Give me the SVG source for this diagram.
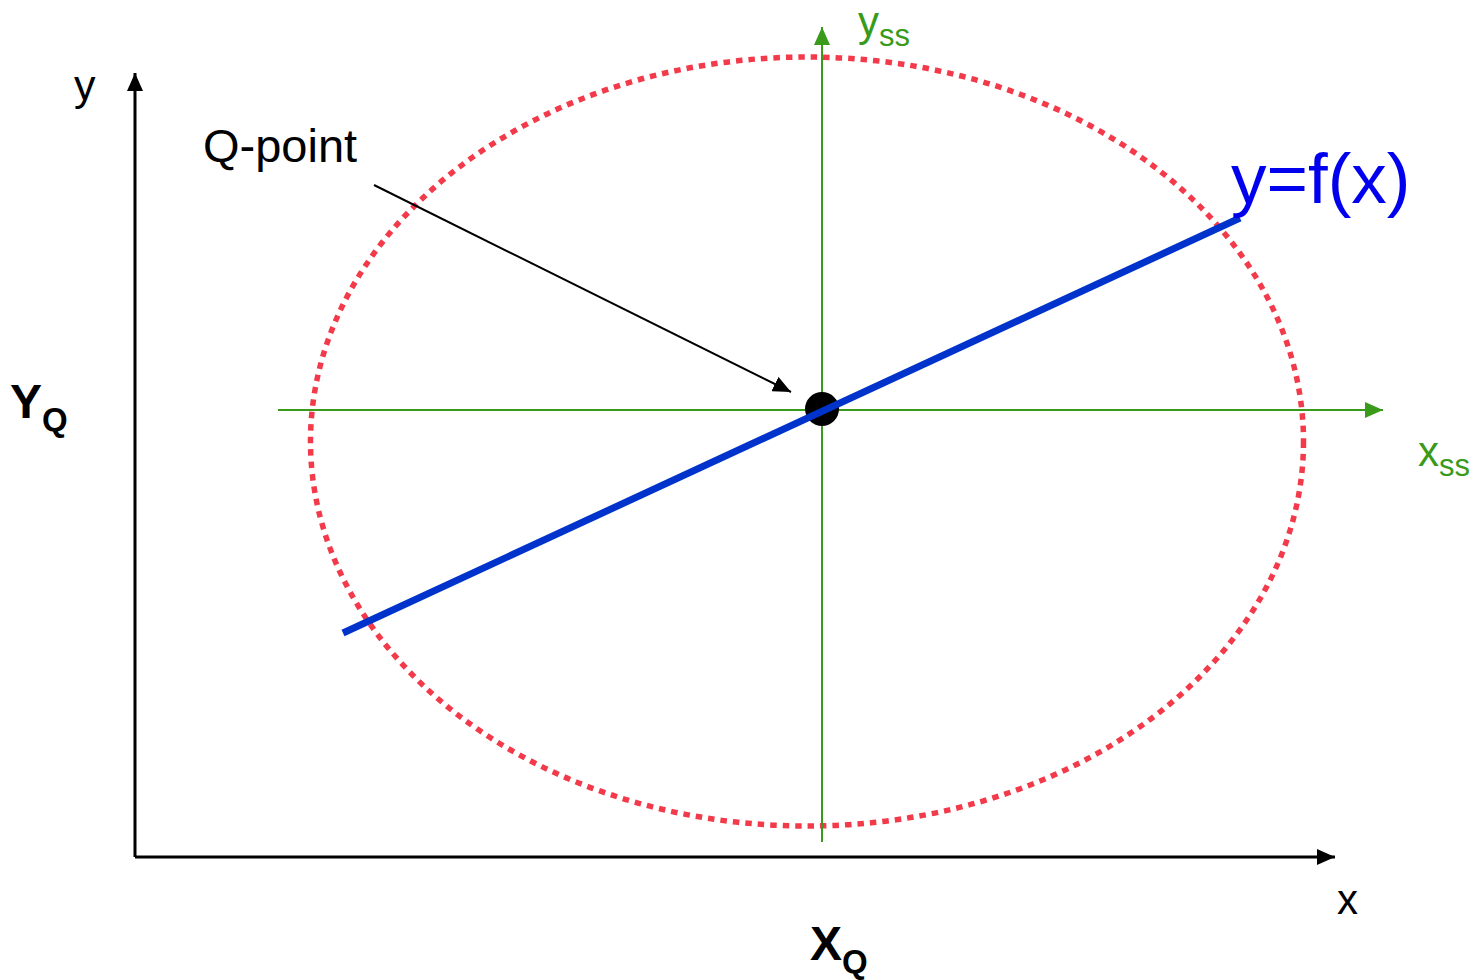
<svg xmlns="http://www.w3.org/2000/svg" width="1480" height="980" viewBox="0 0 1480 980">
<defs>
<marker id="abk" markerWidth="18" markerHeight="16" refX="18" refY="8" orient="auto" markerUnits="userSpaceOnUse"><path d="M0,0 L18,8 L0,16 z" fill="#000"/></marker>
<marker id="ag" markerWidth="18" markerHeight="16" refX="18" refY="8" orient="auto" markerUnits="userSpaceOnUse"><path d="M0,0 L18,8 L0,16 z" fill="#3a9a1a"/></marker>
</defs>
<style>
text{font-family:"Liberation Sans",Arial,sans-serif}
.g{fill:#3a9a1a}
</style>
<rect width="1480" height="980" fill="#fff"/>
<g id="ellipse"><ellipse cx="807" cy="441.5" rx="496.5" ry="384.5" fill="none" stroke="#f23a4a" stroke-width="5.5" stroke-dasharray="6.5 6"/></g>
<g id="connectors">
<line x1="135" y1="857" x2="135" y2="73" stroke="#000" stroke-width="3" marker-end="url(#abk)"/>
<line x1="135" y1="857" x2="1335" y2="857" stroke="#000" stroke-width="3" marker-end="url(#abk)"/>
<line x1="822" y1="842" x2="822" y2="27" stroke="#3a9a1a" stroke-width="2" marker-end="url(#ag)"/>
<line x1="278" y1="410" x2="1383" y2="410" stroke="#3a9a1a" stroke-width="2" marker-end="url(#ag)"/>
<line x1="374" y1="185" x2="791" y2="392" stroke="#000" stroke-width="2" marker-end="url(#abk)"/>
</g>
<g id="qpoint"><circle cx="822" cy="409" r="17" fill="#000"/></g>
<g id="curve"><line x1="343" y1="633" x2="1240" y2="218" stroke="#0033cc" stroke-width="7"/></g>
<g id="labels">
<text x="74" y="100" font-size="43">y</text>
<text x="203" y="162" font-size="47">Q-point</text>
<text x="1231" y="203" font-size="71" fill="#0000ee">y=f(x)</text>
<text x="858" y="36" font-size="42" class="g">y<tspan font-size="31" dy="10">ss</tspan></text>
<text x="1418" y="466" font-size="42" class="g">x<tspan font-size="31" dy="10">ss</tspan></text>
<text x="10" y="418" font-size="48" font-weight="bold">Y<tspan font-size="33" dy="13">Q</tspan></text>
<text x="810" y="960" font-size="48" font-weight="bold">X<tspan font-size="33" dy="13">Q</tspan></text>
<text x="1337" y="914" font-size="42">x</text>
</g>
</svg>
